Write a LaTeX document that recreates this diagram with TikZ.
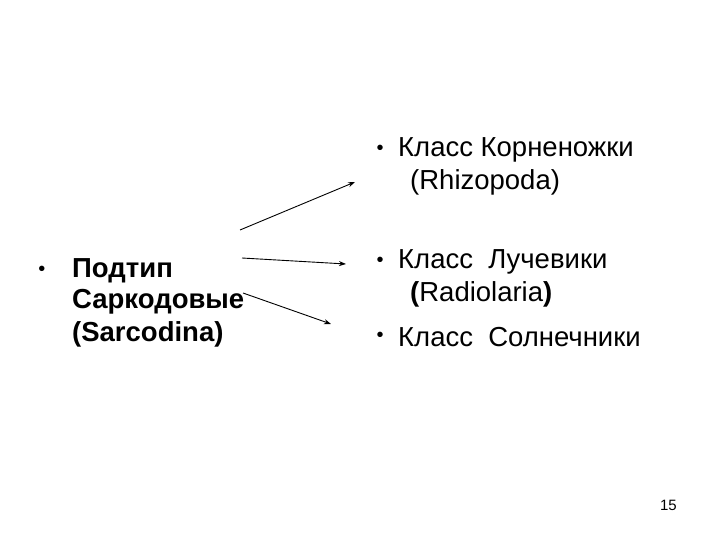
\documentclass[tikz,border=0pt]{standalone}
\usepackage{fontspec}
\setmainfont{Liberation Sans}
\usetikzlibrary{arrows.meta}
\begin{document}
\begin{tikzpicture}[x=1pt,y=-1pt,
  txt/.style={anchor=west,inner sep=0pt,font=\fontsize{27.5}{30}\selectfont},
  bul/.style={anchor=center,inner sep=0pt,font=\fontsize{20}{24}\selectfont},
  arr/.style={-{Stealth[length=7pt,width=5pt]},line width=0.9pt}]
\useasboundingbox (0,0) rectangle (720,540);
\node[bul] (b1) at (42,271) {•};
\node[txt,font=\fontsize{27.5}{30}\selectfont\bfseries] (l1) at (72,271) {Подтип};
\node[txt,font=\fontsize{27.5}{30}\selectfont\bfseries] (l2) at (72,302) {Саркодовые};
\node[txt,font=\fontsize{27.5}{30}\selectfont\bfseries] (l3) at (72,334) {(Sarcodina)};
\node[bul] (r0) at (380,150) {•};
\node[txt] (r1) at (398,150) {Класс Корненожки};
\node[txt] (r2) at (410,182) {(Rhizopoda)};
\node[bul] (r3b) at (380,262) {•};
\node[txt] (r3) at (398,262) {Класс\ \ Лучевики};
\node[txt] (r4) at (410,294) {\textbf{(}Radiolaria\textbf{)}};
\node[bul] (r5b) at (380,337) {•};
\node[txt] (r5) at (398,337) {Класс\ \ Солнечники};
\node[anchor=east,inner sep=0pt,font=\fontsize{15}{17}\selectfont] (pg) at (677,505) {15};
\coordinate (a1) at (240,230); \coordinate (e1) at (355,182);
\coordinate (a2) at (242,258); \coordinate (e2) at (346,264);
\coordinate (a3) at (243,293); \coordinate (e3) at (331,324);
\draw[arr] (a1) -- (e1);
\draw[arr] (a2) -- (e2);
\draw[arr] (a3) -- (e3);
\end{tikzpicture}
\end{document}
